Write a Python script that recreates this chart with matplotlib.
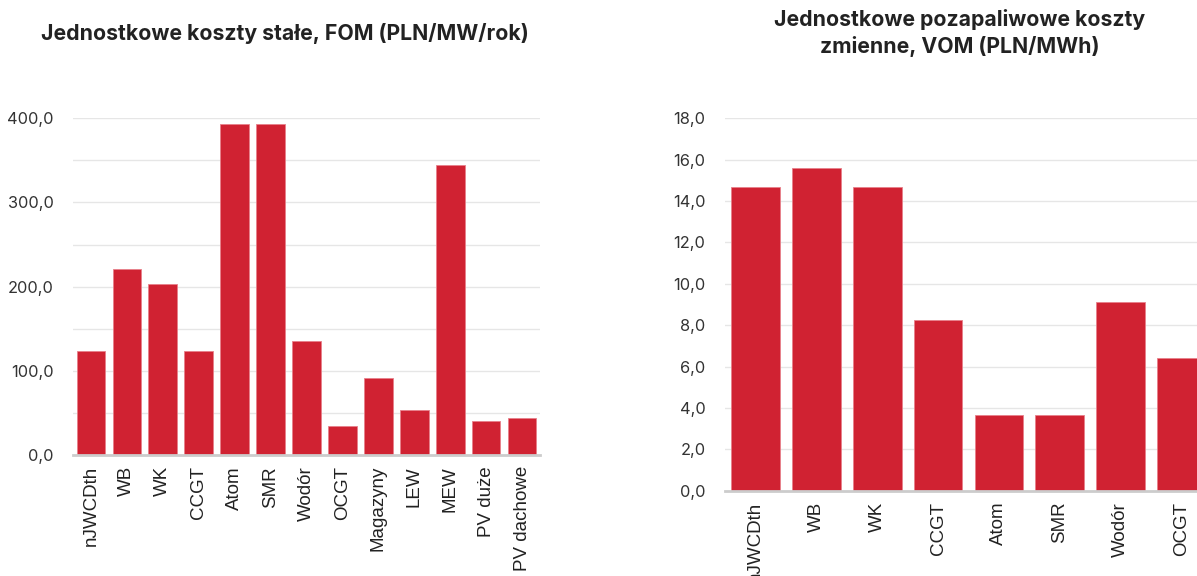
import matplotlib
matplotlib.use('Agg')
import matplotlib.pyplot as plt
import numpy as np

# Dane - koszty stałe (FOM)
fom_labels = ['nJWCDth', 'WB', 'WK', 'CCGT', 'Atom', 'SMR', 'Wodór', 'OCGT',
              'Magazyny', 'LEW', 'MEW', 'PV duże', 'PV dachowe']
fom_values = [123, 221, 203, 123, 393, 393, 136, 34, 91, 54, 344, 40, 44]

# Dane - koszty zmienne (VOM)
vom_labels = ['nJWCDth', 'WB', 'WK', 'CCGT', 'Atom', 'SMR', 'Wodór', 'OCGT']
vom_values = [14.7, 15.6, 14.7, 8.25, 3.65, 3.65, 9.1, 6.4]

fom_ticks = [0, 100, 200, 300, 400]
vom_ticks = [0, 2, 4, 6, 8, 10, 12, 14, 16, 18]

bar_color = '#d02232'
W, H = 1197, 576

fig = plt.figure(figsize=(W / 100, H / 100), dpi=100)
fig.patch.set_facecolor('white')


def fmt(v):
    return f'{v:.1f}'.replace('.', ',')


def draw(ax, labels, values, ticks, grid):
    x = np.arange(len(labels))
    ax.bar(x, values, width=0.8, color=bar_color, edgecolor='#e8808a',
           linewidth=0.6, zorder=3)
    ax.set_xlim(-0.5, len(labels) - 0.5)
    ax.set_ylim(ticks[0], ticks[-1])
    ax.set_yticks(ticks)
    ax.set_yticklabels([fmt(t) for t in ticks], fontsize=11.8, family='Inter',
                       color='#333333')
    ax.set_yticks(grid, minor=True)
    ax.grid(axis='y', which='both', color='#e6e6e6', linewidth=1, zorder=0)
    ax.set_xticks(x)
    ax.set_xticklabels(labels, rotation=90, fontsize=13.5,
                       family='Liberation Sans', color='#222222')
    ax.tick_params(axis='both', which='both', length=0)
    ax.tick_params(axis='y', pad=14)
    ax.tick_params(axis='x', pad=8)
    for s in ['top', 'right', 'left']:
        ax.spines[s].set_visible(False)
    ax.spines['bottom'].set_color('#cccccc')
    ax.spines['bottom'].set_linewidth(2)
    ax.spines['bottom'].set_zorder(4)


# Lewy wykres
ax1 = fig.add_axes([73 / W, 1 - 455 / H, (540 - 73) / W, (455 - 118.3) / H])
draw(ax1, fom_labels, fom_values, fom_ticks, np.arange(0, 401, 50))
fig.text(285 / W, 1 - 34 / H, 'Jednostkowe koszty stałe, FOM (PLN/MW/rok)',
         ha='center', va='center', fontsize=15.3, fontweight='bold',
         family='Inter', color='#222222')

# Prawy wykres (wychodzi poza prawą krawędź, jak w oryginale)
ax2 = fig.add_axes([725 / W, 1 - 490.7 / H, (1212 - 725) / W, (490.7 - 118.3) / H])
draw(ax2, vom_labels, vom_values, vom_ticks, vom_ticks)
fig.text(960 / W, 1 - 33 / H, 'Jednostkowe pozapaliwowe koszty\nzmienne, VOM (PLN/MWh)',
         ha='center', va='center', fontsize=15.3, fontweight='bold',
         family='Inter', color='#222222', linespacing=1.35)

fig.savefig('out.png', dpi=100)
